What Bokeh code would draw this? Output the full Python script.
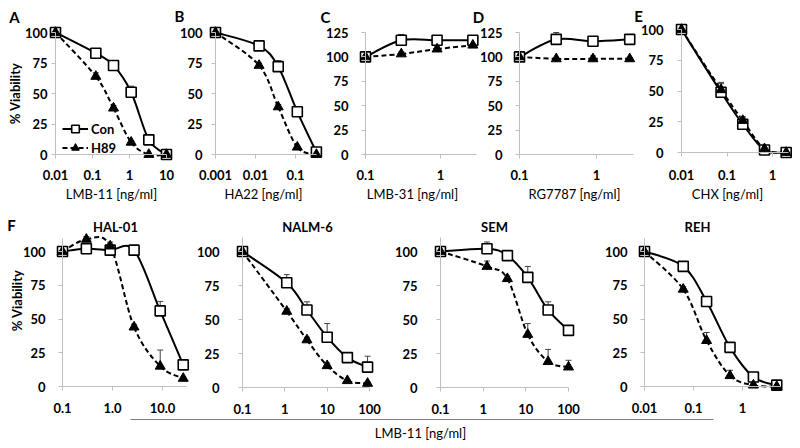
import math
from bokeh.plotting import figure
from bokeh.models import (Range1d, LogScale, LinearScale, LogAxis, LinearAxis,
                          FixedTicker, Label, Legend, LegendItem)
from bokeh.embed import file_html
from bokeh.resources import INLINE

# ---------------- data ----------------
A_x = [0.01, 0.123, 0.37, 1.11, 3.33, 10]
A_con = [100, 83, 73, 51, 12, 0]
A_h89 = [100, 64, 38, 10, 0, 0]
A_con_err = [0, 2, 2, 5, 2, 0]
A_h89_err = [0, 3, 2, 1, 0, 0]

B_x = [0.001, 0.0123, 0.037, 0.111, 0.333]
B_con = [100, 89, 72, 35, 2]
B_h89 = [100, 73, 39, 6, 0]
B_con_err = [0, 2, 5, 2, 1]
B_h89_err = [0, 2, 2, 1, 0]

C_x = [0.1, 0.3, 0.9, 2.7]
C_con = [100, 117, 117, 117]
C_h89 = [100, 103, 108, 112]
C_con_err = [0, 6, 2, 2]
C_h89_err = [0, 2, 3, 2]

D_x = [0.1, 0.3, 0.9, 2.7]
D_con = [100, 118, 116, 118]
D_h89 = [100, 98, 98, 98]
D_con_err = [0, 7, 2, 2]
D_h89_err = [0, 1, 3, 1]

E_x = [0.01, 0.074, 0.222, 0.667, 2]
E_con = [100, 49, 23, 2, 0]
E_h89 = [100, 51, 26, 3, 0]
E_con_err = [0, 8, 6, 3, 0]
E_h89_err = [0, 5, 3, 2, 0]

HAL_x = [0.1, 0.3, 0.9, 2.7, 9, 26]
HAL_con = [100, 102, 101, 101, 56, 16]
HAL_h89 = [100, 109, 104, 44, 15, 6]
HAL_con_err = [0, 2, 3, 2, 7, 2]
HAL_h89_err = [0, 2, 3, 2, 12, 1]

NALM_x = [0.1, 1.11, 3.33, 10, 30, 90]
NALM_con = [100, 77, 57, 37, 22, 15]
NALM_h89 = [100, 56, 35, 16, 5, 3]
NALM_con_err = [0, 6, 6, 10, 2, 8]
NALM_h89_err = [0, 2, 2, 2, 1, 1]

SEM_x = [0.1, 1.23, 3.7, 11.1, 33.3, 100]
SEM_con = [100, 102, 97, 81, 57, 42]
SEM_h89 = [100, 89, 80, 39, 19, 15]
SEM_con_err = [1, 5, 2, 8, 6, 2]
SEM_h89_err = [1, 4, 2, 8, 9, 5]

REH_x = [0.01, 0.0617, 0.185, 0.556, 1.67, 5]
REH_con = [100, 89, 63, 29, 7, 1]
REH_h89 = [100, 72, 34, 8, 1, 0]
REH_con_err = [0, 1, 2, 2, 2, 1]
REH_h89_err = [0, 2, 6, 4, 1, 0]

# tick values / labels
Y100 = [0, 25, 50, 75, 100]
Y125 = [0, 25, 50, 75, 100, 125]
T_A = [0.01, 0.1, 1, 10];   L_A = ["0.01", "0.1", "1", "10"]
T_B = [0.001, 0.01, 0.1];   L_B = ["0.001", "0.01", "0.1"]
T_C = [0.1, 1];             L_C = ["0.1", "1"]
T_E = [0.01, 0.1, 1];       L_E = ["0.01", "0.1", "1"]
T_HAL = [0.1, 1, 10];       L_HAL = ["0.1", "1.0", "10.0"]
T_N = [0.1, 1, 10, 100];    L_N = ["0.1", "1", "10", "100"]

SERIES = ["Con", "H89"]
LETTERS = ["A", "B", "C", "D", "E", "F"]
XTITLES = ["LMB-11 [ng/ml]", "HA22 [ng/ml]", "LMB-31 [ng/ml]", "RG7787 [ng/ml]", "CHX [ng/ml]"]
CELL_LINES = ["HAL-01", "NALM-6", "SEM", "REH"]
YTITLE = "% Viability"
COMMON_XTITLE = "LMB-11 [ng/ml]"

# ---------------- layout / style ----------------
W, H = 792, 444
OFF = 0          # positions below are in page pixels (Bokeh page has no body margin)
FONT = "Lato"
AX = "#bfbfbf"

def log_range(v0, p0, v1, p1):
    s0, s1 = p0 - OFF, p1 - OFF
    b = (s1 - s0) / (math.log10(v1) - math.log10(v0))
    lo = math.log10(v0) - s0 / b
    hi = math.log10(v0) + (W - s0) / b
    return Range1d(10 ** lo, 10 ** hi)

def lin_range(v0, p0, v1, p1):
    s0, s1 = p0 - OFF, p1 - OFF
    m = (v1 - v0) / (s1 - s0)
    return Range1d(v0 + m * (H - s0), v0 + m * (0 - s0))

def smooth_segments(xs, ys):
    """Cubic Bezier control points (Excel-style smoothed line) in log-x space."""
    P = [(math.log10(x), y) for x, y in zip(xs, ys)]
    n = len(P)
    out = dict(x0=[], y0=[], x1=[], y1=[], cx0=[], cy0=[], cx1=[], cy1=[])
    for i in range(n - 1):
        p0, p1, p2, p3 = P[max(i - 1, 0)], P[i], P[i + 1], P[min(i + 2, n - 1)]
        c1 = (p1[0] + (p2[0] - p0[0]) / 6, p1[1] + (p2[1] - p0[1]) / 6)
        c2 = (p2[0] - (p3[0] - p1[0]) / 6, p2[1] - (p3[1] - p1[1]) / 6)
        out["x0"].append(10 ** p1[0]); out["y0"].append(p1[1])
        out["x1"].append(10 ** p2[0]); out["y1"].append(p2[1])
        out["cx0"].append(10 ** c1[0]); out["cy0"].append(c1[1])
        out["cx1"].append(10 ** c2[0]); out["cy1"].append(c2[1])
    return out

panels = [
    dict(key="A", x=A_x, con=A_con, h89=A_h89, ce=A_con_err, he=A_h89_err,
         xmap=(0.01, 55, 10, 166), ymap=(0, 154, 100, 32), xb=(0.01, 10), yb=(0, 100),
         xt=T_A, xl=L_A, yt=Y100, ygap=8, xso=11),
    dict(key="B", x=B_x, con=B_con, h89=B_h89, ce=B_con_err, he=B_h89_err,
         xmap=(0.001, 215, 0.1, 295), ymap=(0, 154, 100, 32), xb=(0.001, 0.333), yb=(0, 100),
         xt=T_B, xl=L_B, yt=Y100, ygap=13, xso=11),
    dict(key="C", x=C_x, con=C_con, h89=C_h89, ce=C_con_err, he=C_h89_err,
         xmap=(0.1, 365, 1, 440), ymap=(0, 154, 125, 32), xb=(0.1, 3), yb=(0, 125),
         xt=T_C, xl=L_C, yt=Y125, ygap=17, xso=11),
    dict(key="D", x=D_x, con=D_con, h89=D_h89, ce=D_con_err, he=D_h89_err,
         xmap=(0.1, 519, 1, 596), ymap=(0, 154, 125, 32), xb=(0.1, 3), yb=(0, 125),
         xt=T_C, xl=L_C, yt=Y125, ygap=17, xso=11),
    dict(key="E", x=E_x, con=E_con, h89=E_h89, ce=E_con_err, he=E_h89_err,
         xmap=(0.01, 681, 1, 772), ymap=(0, 152, 100, 29), xb=(0.01, 2.2), yb=(0, 100),
         xt=T_E, xl=L_E, yt=Y100, ygap=18, xso=13),
    dict(key="HAL", x=HAL_x, con=HAL_con, h89=HAL_h89, ce=HAL_con_err, he=HAL_h89_err,
         xmap=(0.1, 62, 10, 162), ymap=(0, 386, 100, 251), xb=(0.1, 30), yb=(0, 110),
         xt=T_HAL, xl=L_HAL, yt=Y100, ygap=17, xso=12),
    dict(key="NALM", x=NALM_x, con=NALM_con, h89=NALM_h89, ce=NALM_con_err, he=NALM_h89_err,
         xmap=(0.1, 242, 100, 369), ymap=(0, 387, 100, 251), xb=(0.1, 100), yb=(0, 110),
         xt=T_N, xl=L_N, yt=Y100, ygap=23, xso=12),
    dict(key="SEM", x=SEM_x, con=SEM_con, h89=SEM_h89, ce=SEM_con_err, he=SEM_h89_err,
         xmap=(0.1, 440, 100, 568), ymap=(0, 387, 100, 251), xb=(0.1, 100), yb=(0, 110),
         xt=T_N, xl=L_N, yt=Y100, ygap=23, xso=12),
    dict(key="REH", x=REH_x, con=REH_con, h89=REH_h89, ce=REH_con_err, he=REH_h89_err,
         xmap=(0.01, 644, 1, 742), ymap=(0, 386, 100, 251), xb=(0.01, 6), yb=(0, 110),
         xt=T_E, xl=L_E, yt=Y100, ygap=17, xso=12),
]

p = figure(width=W, height=H, x_range=Range1d(0, W), y_range=Range1d(H, 0),
           x_axis_type=None, y_axis_type=None, toolbar_location=None,
           output_backend="svg", min_border=0)
p.outline_line_color = None
p.background_fill_color = "white"
p.border_fill_color = "white"

p.extra_x_ranges = {c["key"]: log_range(*c["xmap"]) for c in panels}
p.extra_x_scales = {c["key"]: LogScale() for c in panels}
p.extra_y_ranges = {c["key"]: lin_range(*c["ymap"]) for c in panels}
p.extra_y_scales = {c["key"]: LinearScale() for c in panels}

def style_axis(ax):
    ax.axis_line_color = AX
    ax.major_tick_line_color = AX
    ax.major_tick_in = 0
    ax.major_tick_out = 4
    ax.minor_tick_line_color = None
    ax.major_label_text_font = FONT
    ax.major_label_text_font_style = "bold"
    ax.major_label_text_font_size = "13px"
    ax.major_label_text_color = "black"

legend_renderers = None
for c in panels:
    k = c["key"]
    yax = LinearAxis(x_range_name=k, y_range_name=k, fixed_location=c["xb"][0],
                     bounds=c["yb"], ticker=FixedTicker(ticks=c["yt"]))
    style_axis(yax)
    yax.major_label_standoff = c["ygap"] - 4
    p.add_layout(yax, "left")
    xax = LogAxis(x_range_name=k, y_range_name=k, fixed_location=c["yb"][0],
                  bounds=c["xb"], ticker=FixedTicker(ticks=c["xt"]),
                  major_label_overrides=dict(zip(c["xt"], c["xl"])))
    style_axis(xax)
    xax.major_label_standoff = c["xso"]
    p.add_layout(xax, "below")

    kw = dict(x_range_name=k, y_range_name=k)
    l_h = p.bezier(**smooth_segments(c["x"], c["h89"]), line_color="black", line_width=2,
                   line_dash="5 3", **kw)
    l_c = p.bezier(**smooth_segments(c["x"], c["con"]), line_color="black", line_width=2, **kw)
    for ys, es in ((c["con"], c["ce"]), (c["h89"], c["he"])):
        ex = [xv for xv, e in zip(c["x"], es) if e > 0]
        ey0 = [yv for yv, e in zip(ys, es) if e > 0]
        ey1 = [yv + e for yv, e in zip(ys, es) if e > 0]
        p.segment(ex, ey0, ex, ey1, line_color="#404040", line_width=1, **kw)
        p.scatter(ex, ey1, marker="dash", size=6, line_color="#404040", line_width=1, **kw)
    s_c = p.scatter(c["x"], c["con"], marker="square", size=10, fill_color="white",
                    line_color="black", line_width=1.6, **kw)
    s_h = p.scatter(c["x"], c["h89"], marker="triangle", size=10, fill_color="black",
                    line_color="black", **kw)
    if k == "A":
        legend_renderers = ([l_c, s_c], [l_h, s_h])

legend = Legend(items=[LegendItem(label=SERIES[0], renderers=legend_renderers[0]),
                       LegendItem(label=SERIES[1], renderers=legend_renderers[1])],
                location=(62 - OFF, H - (157 - OFF)), glyph_width=26, glyph_height=19,
                label_height=19, label_standoff=3, spacing=0, padding=0, margin=0,
                border_line_alpha=0, background_fill_alpha=0,
                label_text_font=FONT, label_text_font_style="bold",
                label_text_font_size="13px", label_text_color="black")
p.add_layout(legend)

def text(x, y, s, size="13px", style="bold", angle=0.0):
    p.add_layout(Label(x=x - OFF, y=y - OFF, text=s, text_font=FONT, text_font_size=size,
                       text_font_style=style, text_color="black", text_align="center",
                       text_baseline="middle", angle=angle))

# panel letters
for s, (x, y) in zip(LETTERS, [(14, 16), (179, 15), (325, 16), (478, 16), (638, 15), (11, 224)]):
    text(x, y, s, size="15px")
# x-axis titles, first row
for s, x in zip(XTITLES, [111, 263, 412, 574, 727]):
    text(x, 193, s, style="normal")
# cell-line titles, second row
for s, x in zip(CELL_LINES, [115, 307, 494, 697]):
    text(x, 226, s)
# y titles
text(14, 93, YTITLE, angle=math.pi / 2)
text(16, 300, YTITLE, angle=math.pi / 2)

# common x-axis for the second row
common = LinearAxis(fixed_location=419 - OFF, bounds=(130 - OFF, 713 - OFF),
                    ticker=FixedTicker(ticks=[]), axis_line_color="#808080",
                    major_label_text_font_size="0px", major_tick_line_color=None,
                    minor_tick_line_color=None)
p.add_layout(common, "below")
text(420, 432, COMMON_XTITLE, style="normal")

open("out.html", "w").write(file_html(p, INLINE))
